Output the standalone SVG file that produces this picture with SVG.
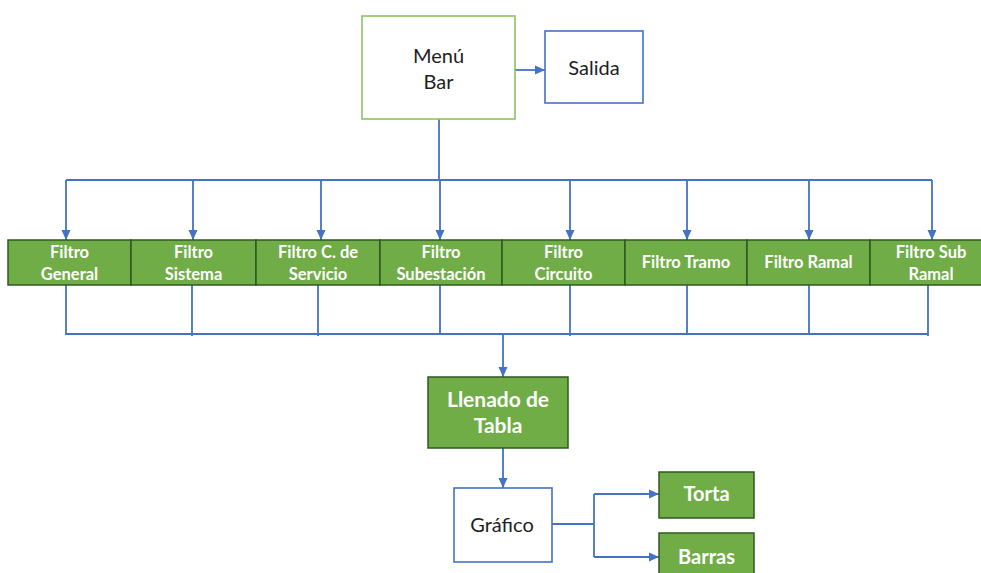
<svg xmlns="http://www.w3.org/2000/svg" width="981" height="573" viewBox="0 0 981 573">
  <style>
    .ln { fill: none; stroke: #4472C4; stroke-width: 1.8; }
    .flt { fill: #70AD47; stroke: #2E5A1E; stroke-width: 1.5; }
    .wt { fill: #FFFFFF; font-family: Lato, "Open Sans", sans-serif; font-weight: bold; text-anchor: middle; }
    .bk { fill: #1E1E1E; font-family: Lato, "Open Sans", sans-serif; text-anchor: middle; }
    .f15 { font-size: 16.5px; }
    .f19 { font-size: 21px; }
  </style>
  <defs>
    <marker id="ah" viewBox="0 0 10 10" refX="10" refY="5" markerWidth="10" markerHeight="10" markerUnits="userSpaceOnUse" orient="auto">
      <path d="M0,0.5 L10,5 L0,9.5 z" fill="#4472C4"/>
    </marker>
  </defs>

  <!-- connectors -->
  <g id="connectors">
    <path class="ln" d="M515,70 H545" marker-end="url(#ah)"/>
    <path class="ln" d="M439,119 V180"/>
    <path class="ln" d="M66,180 H932"/>
    <path class="ln" d="M66,180 V240" marker-end="url(#ah)"/>
    <path class="ln" d="M193,180 V240" marker-end="url(#ah)"/>
    <path class="ln" d="M321,180 V240" marker-end="url(#ah)"/>
    <path class="ln" d="M440,180 V240" marker-end="url(#ah)"/>
    <path class="ln" d="M570,180 V240" marker-end="url(#ah)"/>
    <path class="ln" d="M687,180 V240" marker-end="url(#ah)"/>
    <path class="ln" d="M809,180 V240" marker-end="url(#ah)"/>
    <path class="ln" d="M932,180 V240" marker-end="url(#ah)"/>
    <path class="ln" d="M66,285 V335"/>
    <path class="ln" d="M192,285 V336"/>
    <path class="ln" d="M318,285 V336"/>
    <path class="ln" d="M440,285 V335"/>
    <path class="ln" d="M570,285 V336"/>
    <path class="ln" d="M687,285 V335"/>
    <path class="ln" d="M809,285 V335"/>
    <path class="ln" d="M928,285 V336"/>
    <path class="ln" d="M66,334 H928"/>
    <path class="ln" d="M503,334 V377" marker-end="url(#ah)"/>
    <path class="ln" d="M503,448 V488" marker-end="url(#ah)"/>
    <path class="ln" d="M552,524 H594"/>
    <path class="ln" d="M594,494 V557"/>
    <path class="ln" d="M594,494 H659" marker-end="url(#ah)"/>
    <path class="ln" d="M594,557 H659" marker-end="url(#ah)"/>
  </g>

  <g id="menu">
    <rect x="362" y="16" width="153" height="103" fill="#FFFFFF" stroke="#8CC466" stroke-width="1.6"/>
    <text class="bk" x="438.5" y="63" font-size="20">Menú</text>
    <text class="bk" x="438.5" y="89" font-size="20">Bar</text>
  </g>

  <g id="salida">
    <rect x="545" y="31" width="98" height="72" fill="#FFFFFF" stroke="#4472C4" stroke-width="1.6"/>
    <text class="bk" x="594" y="75" font-size="20">Salida</text>
  </g>

  <g id="filtro-general">
    <rect class="flt" x="8" y="240" width="123" height="45"/>
    <text class="wt f15" x="69.5" y="258">Filtro</text>
    <text class="wt f15" x="69.5" y="280">General</text>
  </g>
  <g id="filtro-sistema">
    <rect class="flt" x="131" y="240" width="125" height="45"/>
    <text class="wt f15" x="193.5" y="258">Filtro</text>
    <text class="wt f15" x="193.5" y="280">Sistema</text>
  </g>
  <g id="filtro-servicio">
    <rect class="flt" x="256" y="240" width="124" height="45"/>
    <text class="wt f15" x="318" y="258">Filtro C. de</text>
    <text class="wt f15" x="318" y="280">Servicio</text>
  </g>
  <g id="filtro-subestacion">
    <rect class="flt" x="380" y="240" width="122" height="45"/>
    <text class="wt f15" x="441" y="258">Filtro</text>
    <text class="wt f15" x="441" y="280">Subestación</text>
  </g>
  <g id="filtro-circuito">
    <rect class="flt" x="502" y="240" width="123" height="45"/>
    <text class="wt f15" x="563.5" y="258">Filtro</text>
    <text class="wt f15" x="563.5" y="280">Circuito</text>
  </g>
  <g id="filtro-tramo">
    <rect class="flt" x="625" y="240" width="122" height="45"/>
    <text class="wt f15" x="686" y="268">Filtro Tramo</text>
  </g>
  <g id="filtro-ramal">
    <rect class="flt" x="747" y="240" width="123" height="45"/>
    <text class="wt f15" x="808.5" y="268">Filtro Ramal</text>
  </g>
  <g id="filtro-subramal">
    <rect class="flt" x="870" y="240" width="124" height="45"/>
    <text class="wt f15" x="931" y="258">Filtro Sub</text>
    <text class="wt f15" x="931" y="280">Ramal</text>
  </g>

  <g id="llenado">
    <rect class="flt" x="428" y="377" width="140" height="71"/>
    <text class="wt f19" x="498" y="407">Llenado de</text>
    <text class="wt f19" x="498" y="433">Tabla</text>
  </g>

  <g id="grafico">
    <rect x="454" y="488" width="98" height="74" fill="#FFFFFF" stroke="#4472C4" stroke-width="1.6"/>
    <text class="bk" x="502" y="532" font-size="20">Gráfico</text>
  </g>

  <g id="torta">
    <rect class="flt" x="659" y="472" width="95" height="46"/>
    <text class="wt" x="706.5" y="501" font-size="20">Torta</text>
  </g>

  <g id="barras">
    <rect class="flt" x="659" y="533" width="95" height="46"/>
    <text class="wt" x="706.5" y="564" font-size="20">Barras</text>
  </g>
</svg>
